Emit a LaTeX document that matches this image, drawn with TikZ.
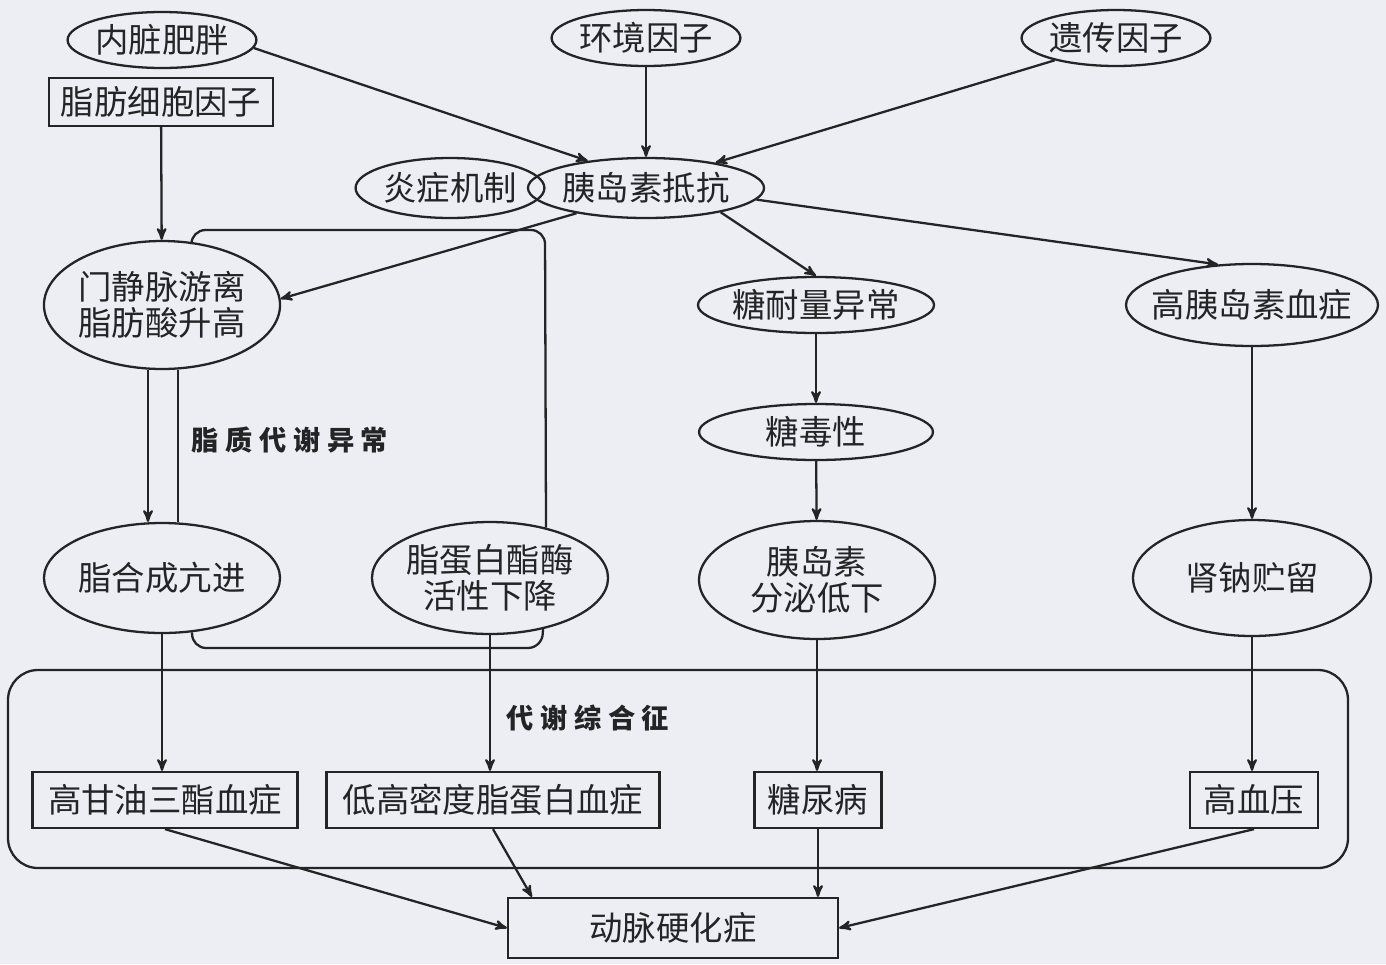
\documentclass[tikz,border=0pt]{standalone}
\usepackage{fontspec}
\setmainfont{Noto Sans CJK SC}
\newfontfamily\cjklbl[LetterSpace=24]{Noto Sans CJK SC}
\usepackage{tikz}
\usetikzlibrary{arrows}
\usetikzlibrary{shapes.geometric,calc}

\definecolor{paper}{RGB}{236,238,244}
\definecolor{ink}{RGB}{36,36,38}

\tikzset{
  oval/.style={ellipse,draw=ink,line width=1.3pt,inner sep=0pt,align=center,font=\fontsize{19}{20.5}\selectfont},
  box/.style={rectangle,draw=ink,line width=1.3pt,inner sep=0pt,align=center,minimum height=1.12cm,font=\fontsize{19}{20.5}\selectfont},
  grp/.style={font=\cjklbl\bfseries\fontsize{15.5}{16}\selectfont,inner sep=0pt},
}

\begin{document}
\begin{tikzpicture}[x=0.02cm,y=-0.02cm,>=stealth',line width=1.3pt,draw=ink,color=ink]
		\fill[paper] (0,0) rectangle (1386,964);
		\useasboundingbox (0,0) rectangle (1386,964);

		% top row
		\node[oval,minimum width=3.52cm,minimum height=1.12cm] (fat) at (162,40) {内脏肥胖};
		\node[box,minimum width=4.48cm,minimum height=0.96cm] (adipo) at (161,102) {脂肪细胞因子};
		\node[oval,minimum width=3.48cm,minimum height=1.12cm] (env) at (646,38) {环境因子};
		\node[oval,minimum width=3.48cm,minimum height=1.12cm] (gene) at (1116,38) {遗传因子};
		\node[oval,minimum width=3.4cm,minimum height=1.2cm] (infl) at (450,188) {炎症机制};
		\node[oval,minimum width=4.64cm,minimum height=1.2cm] (ir) at (646,188) {胰岛素抵抗};

		% middle
		\node[oval,minimum width=4.72cm,minimum height=2.56cm] (ffa) at (162,305) {门静脉游离\\脂肪酸升高};
		\node[oval,minimum width=4.68cm,minimum height=1.12cm] (igt) at (816,305) {糖耐量异常};
		\node[oval,inner xsep=-0.24cm,minimum width=5.04cm,minimum height=1.64cm] (hyperins) at (1252,305) {高胰岛素血症};
		\node[oval,minimum width=4.68cm,minimum height=1.12cm] (gtox) at (816,432) {糖毒性};
		\node[oval,minimum width=4.72cm,minimum height=2.2cm] (lipo) at (162,578) {脂合成亢进};
		\node[oval,minimum width=4.72cm,minimum height=2.24cm] (lpl) at (490,578) {脂蛋白酯酶\\活性下降};
		\node[oval,minimum width=4.72cm,minimum height=2.36cm] (secr) at (817,580) {胰岛素\\分泌低下};
		\node[oval,minimum width=4.76cm,minimum height=2.32cm] (sodium) at (1252,578) {肾钠贮留};
		\node[grp] (lipid) at (290,440) {脂质代谢异常};

		% metabolic syndrome frame
		\draw[rounded corners=0.6cm] (8,670) rectangle (1348,868);
		\node[grp] (mets) at (588,718) {代谢综合征};
		\node[box,minimum width=5.3cm] (tg) at (165,800) {高甘油三酯血症};
		\node[box,minimum width=6.66cm] (hdl) at (493,800) {低高密度脂蛋白血症};
		\node[box,minimum width=2.54cm] (dm) at (818,800) {糖尿病};
		\node[box,minimum width=2.56cm] (htn) at (1254,800) {高血压};
		\node[box,minimum width=6.6cm,minimum height=1.2cm] (as) at (673,928) {动脉硬化症};

		\coordinate (topbend) at (545,230);
		\coordinate (botbend) at (542,648);

		\draw[->] (fat.-5) -- (ir.155);
		\draw[->] (env) -- (ir);
		\draw[->] (gene.200) -- (ir.20);
		\draw[->] (adipo) -- (ffa);
		\draw[->] (ir.200) -- (ffa.3);
		\draw[->] (ir.-18) -- (igt.north);
		\draw[->] (ir.-6) -- (hyperins.130);
		\draw[->] (igt) -- (gtox);
		\draw[->] (gtox) -- (secr);
		\draw[->] (hyperins) -- (sodium);
		\draw[->] ([xshift=-0.28cm]ffa.south) -- ([xshift=-0.28cm]lipo.north);
		\draw ([xshift=0.32cm]ffa.south) -- ([xshift=0.32cm]lipo.north);
		\draw[rounded corners=8pt] (ffa.65) |- (topbend) -- (lpl.42);
		\draw[rounded corners=8pt] (lipo.-61) |- (botbend) -- (lpl.-44);
		\draw[->] (lipo.south) -- (lipo.south |- tg.north);
		\draw[->] (lpl.south) -- (lpl.south |- hdl.north);
		\draw[->] (secr.south) -- (secr.south |- dm.north);
		\draw[->] (sodium.south) -- (sodium.south |- htn.north);
		\draw[->] (tg.south) -- (as.west);
		\draw[->] (hdl.south) -- ([xshift=0.5cm]as.north west);
		\draw[->] (dm.south) -- (dm.south |- as.north);
		\draw[->] (htn.south) -- (as.east);
	\end{tikzpicture}
\end{document}
